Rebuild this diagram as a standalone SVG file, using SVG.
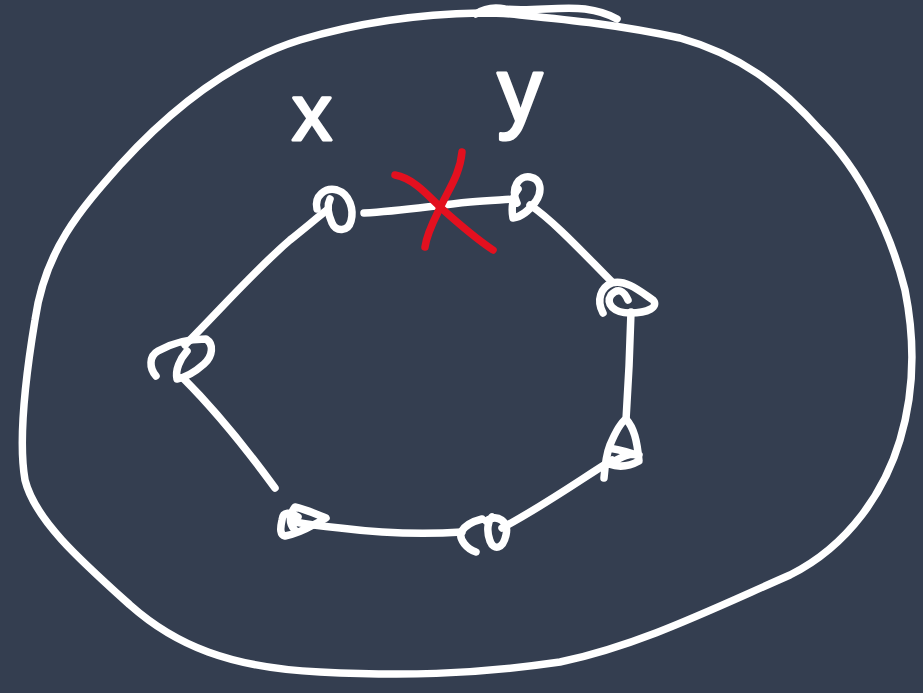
<svg xmlns="http://www.w3.org/2000/svg" width="923" height="693" viewBox="0 0 923 693">
<style>
.s{fill:none;stroke:#ffffff;stroke-width:7.5;stroke-linecap:round;stroke-linejoin:round}
.r{fill:none;stroke:#e3101f;stroke-width:7.5;stroke-linecap:round;stroke-linejoin:round}
.t{fill:#ffffff;stroke:#ffffff;stroke-width:3;stroke-linejoin:round;font-family:"Liberation Sans",Arial,sans-serif;text-anchor:middle}
</style>
<rect width="923" height="693" fill="#343e50"/>
<g id="outer">
<path class="s" d="M480,13 C420,14 360,22 300,40 C230,62 170,110 120,165 C80,210 45,250 35,320 C25,380 18,440 25,480 C35,520 80,560 130,605 C175,645 230,668 320,672 C400,676 470,675 560,662 C640,645 710,610 790,575 C850,545 885,490 900,440 C915,390 915,340 905,290 C890,230 860,170 820,130 C780,85 740,55 680,38 C620,25 570,20 520,15 C505,13 490,13 480,13"/>
<path class="s" d="M476,14 C485,8 495,7 505,9 C530,12 560,6 585,9 C600,11 610,15 617,19"/>
</g>
<g id="edges">
<path class="s" d="M364,213 C400,211 430,206 470,202 C490,200 505,200 514,199"/>
<path class="s" d="M530,205 C555,222 585,255 612,282"/>
<path class="s" d="M631,312 C630,350 628,390 626,420"/>
<path class="s" d="M612,460 C580,480 545,505 502,528"/>
<path class="s" d="M462,532 C420,535 380,533 340,528 C320,526 305,524 295,522"/>
<path class="s" d="M183,378 C210,405 240,440 275,488"/>
<path class="s" d="M185,345 C220,310 255,270 290,240 C305,228 318,217 327,210"/>
</g>
<g id="cut">
<path class="r" d="M395,175 C412,178 425,192 440,207 C460,225 478,240 493,250"/>
<path class="r" d="M462,152 C460,175 448,190 438,212 C430,228 426,240 425,247"/>
</g>
<g id="label-x"><text class="t" x="312" y="140" font-size="80">x</text></g>
<g id="label-y"><text class="t" x="520" y="121" font-size="90">y</text></g>
<g id="node-x">
<path class="s" d="M317,209 C314,196 325,187 337,190 C350,194 354,210 351,221 C348,232 336,232 332,223 C328,214 327,205 330,199"/>
</g>
<g id="node-y">
<path class="s" d="M517,203 C510,188 519,175 530,177 C542,179 542,192 536,201 C529,211 520,217 513,218 C511,208 513,195 518,189"/>
</g>
<g id="node-r">
<path class="s" d="M603,313 C596,300 601,287 612,283 C626,279 641,292 653,300 C659,307 648,313 630,313 C614,313 605,304 611,295 C618,287 624,291 628,300"/>
</g>
<g id="node-rl">
<path class="s" d="M604,478 C605,465 606,455 610,445 C615,433 620,423 626,419 C634,428 637,440 639,461 C630,466 620,468 609,464 C620,458 630,452 639,455 M609,448 C620,450 630,452 638,456"/>
</g>
<g id="node-b">
<path class="s" d="M476,552 C467,549 459,540 461,532 C465,525 474,521 482,519 M486,521 C498,513 509,522 506,535 C503,549 494,551 490,541 C486,530 488,521 492,517"/>
</g>
<g id="node-bl">
<path class="s" d="M298,517 C290,512 283,511 282,520 C280,529 280,535 285,536 C295,534 306,529 313,525 C319,522 323,520 326,518 C316,514 305,509 295,507 C289,515 289,523 294,529"/>
</g>
<g id="node-l">
<path class="s" d="M156,376 C149,368 149,356 158,351 C172,343 190,339 206,339 C214,344 213,356 204,364 C195,372 187,377 177,379 C175,370 180,359 187,351"/>
</g>
</svg>
